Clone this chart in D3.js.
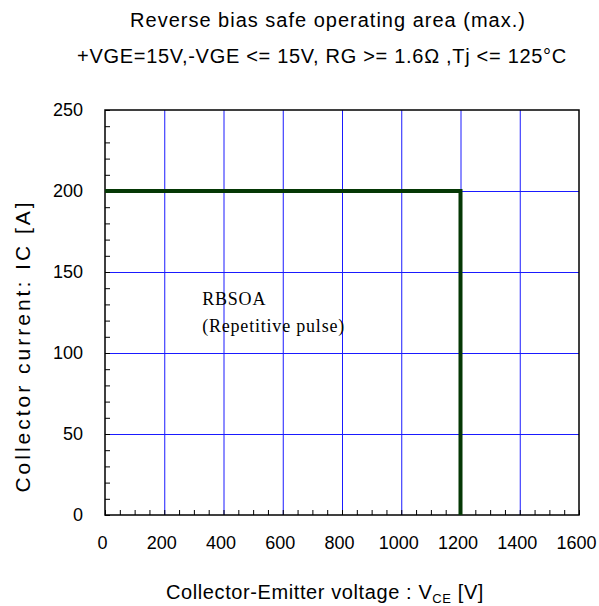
<!DOCTYPE html>
<html>
<head>
<meta charset="utf-8">
<script src="https://cdn.jsdelivr.net/npm/d3@7"></script>
<style>
  body { margin: 0; background: #fff; }
  text { font-family: "Liberation Sans", Arial, sans-serif; fill: #000; }
</style>
</head>
<body>
<div id="chart"></div>
<script>
// chart data
var voltage = [0, 1200, 1200]      // V_CE [V]
var current = [200, 200, 0]        // IC [A]
var xTicks = [0, 200, 400, 600, 800, 1000, 1200, 1400, 1600]
var yTicks = [0, 50, 100, 150, 200, 250]
var titleLines = ["Reverse bias safe operating area (max.)",
                  "+VGE=15V,-VGE <= 15V, RG >= 1.6\u03A9 ,Tj <= 125\u00B0C"]
var noteLines = ["RBSOA", "(Repetitive pulse)"]

var width = 599
var height = 606
var margin = {left: 105, right: 20, top: 110, bottom: 91}
var w = width - margin.left - margin.right
var h = height - margin.top - margin.bottom

var svg = d3.select("#chart")
    .append("svg")
    .attr("width", width)
    .attr("height", height)

var x = d3.scaleLinear().domain([0, 1600]).range([0, w])
var y = d3.scaleLinear().domain([0, 250]).range([h, 0])

var g = svg.append("g")
    .attr("transform", "translate(" + margin.left + "," + margin.top + ")")

// grid lines (blue)
g.append("g")
    .attr("transform", "translate(0," + h + ")")
    .call(d3.axisBottom(x).tickValues(xTicks.slice(1, -1)).tickSize(-h).tickFormat(""))
    .call(s => s.select(".domain").remove())
    .selectAll("line").attr("stroke", "#1a1aff").attr("stroke-width", 1)
g.append("g")
    .call(d3.axisLeft(y).tickValues(yTicks.slice(1, -1)).tickSize(-w).tickFormat(""))
    .call(s => s.select(".domain").remove())
    .selectAll("line").attr("stroke", "#1a1aff").attr("stroke-width", 1)

// minor ticks, pointing inward
g.append("g")
    .attr("transform", "translate(0," + h + ")")
    .call(d3.axisBottom(x).tickValues(d3.range(0, 1601, 50)).tickSize(-5).tickFormat(""))
    .call(s => s.select(".domain").remove())
    .selectAll("line").attr("stroke", "#000")
g.append("g")
    .call(d3.axisLeft(y).tickValues(d3.range(0, 251, 10)).tickSize(-5).tickFormat(""))
    .call(s => s.select(".domain").remove())
    .selectAll("line").attr("stroke", "#000")

// tick labels
var xAxis = g.append("g")
    .attr("transform", "translate(-3," + h + ")")
    .call(d3.axisBottom(x).tickValues(xTicks).tickSize(0).tickPadding(21).tickFormat(d3.format("d")))
xAxis.select(".domain").remove()
xAxis.selectAll("text").style("font-size", "18px").style("font-family", "Liberation Sans, Arial, sans-serif")

var yAxis = g.append("g")
    .call(d3.axisLeft(y).tickValues(yTicks).tickSize(0).tickPadding(22))
yAxis.select(".domain").remove()
yAxis.selectAll("text").style("font-size", "18px").style("font-family", "Liberation Sans, Arial, sans-serif")

// frame
g.append("rect")
    .attr("width", w)
    .attr("height", h)
    .attr("fill", "none")
    .attr("stroke", "#000")
    .attr("stroke-width", 1.5)

// RBSOA limit line
var line = d3.line()
    .x(function(d, i) { return x(voltage[i]) })
    .y(function(d) { return y(d) })
g.append("path")
    .datum(current)
    .attr("d", line)
    .attr("fill", "none")
    .attr("stroke", "#053805")
    .attr("stroke-width", 4)

// note inside plot
g.selectAll(".note")
    .data(noteLines)
    .enter()
    .append("text")
    .attr("class", "note")
    .attr("x", x(328))
    .attr("y", function(d, i) { return y(129.5) + i * 26.5 })
    .style("font-family", "Liberation Serif, Times New Roman, serif")
    .style("font-size", "18px")
    .style("letter-spacing", "0.8px")
    .text(function(d) { return d })

// titles
svg.selectAll(".title")
    .data(titleLines)
    .enter()
    .append("text")
    .attr("class", "title")
    .attr("x", function(d, i) { return i == 0 ? 328 : 322 })
    .attr("y", function(d, i) { return 27 + i * 36 })
    .attr("text-anchor", "middle")
    .style("font-size", "20px")
    .style("letter-spacing", function(d, i) { return i == 0 ? "1px" : "0.7px" })
    .text(function(d) { return d })

// x axis title
var xt = svg.append("text")
    .attr("x", 325)
    .attr("y", 599)
    .attr("text-anchor", "middle")
    .style("font-size", "20px")
    .style("letter-spacing", "0.6px")
xt.append("tspan").text("Collector-Emitter voltage : V")
xt.append("tspan").attr("dy", 4).style("font-size", "13px").text("CE")
xt.append("tspan").attr("dy", -4).text(" [V]")

// y axis title
svg.append("text")
    .attr("transform", "translate(30,346) rotate(-90)")
    .attr("text-anchor", "middle")
    .style("font-size", "21px")
    .style("letter-spacing", "3px")
    .text("Collector current: IC [A]")
</script>
</body>
</html>
